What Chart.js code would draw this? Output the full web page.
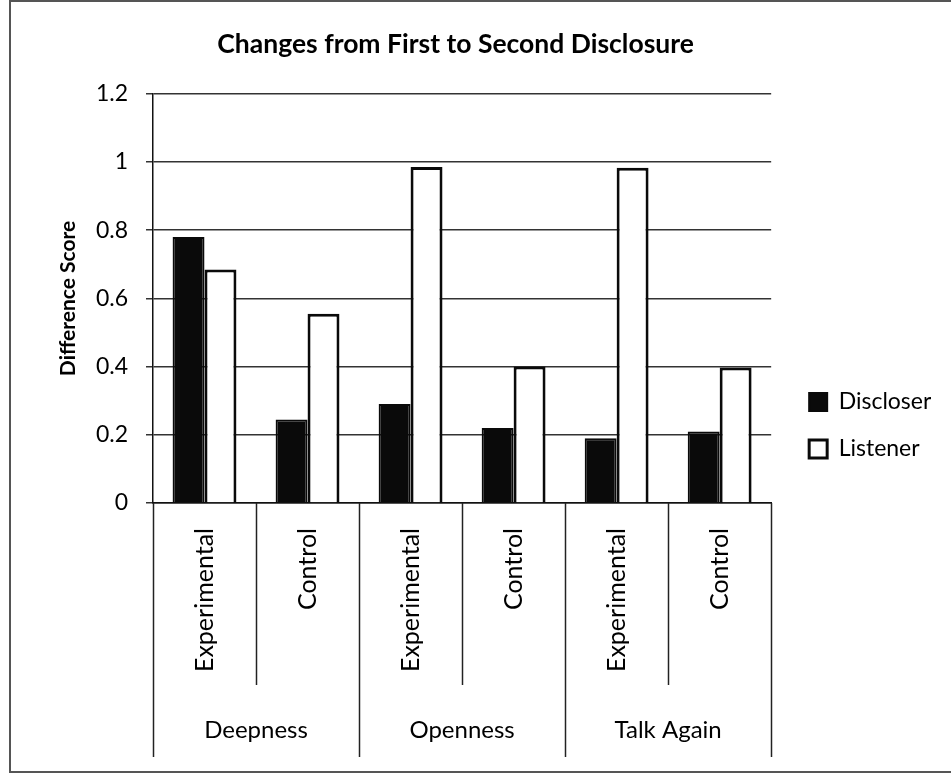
<!DOCTYPE html>
<html>
<head>
<meta charset="utf-8">
<script src="https://cdn.jsdelivr.net/npm/chart.js@4.4.1/dist/chart.umd.min.js"></script>
<style>
    html, body { margin: 0; padding: 0; background: #fff; }
    #wrap {
        position: absolute;
        left: 9px;
        top: 0;
        width: 940px;
        height: 769px;
        border-left: 2px solid #555;
        border-top: 2px solid #555;
        border-bottom: 2px solid #555;
    }
</style>
</head>
<body>
<div id="wrap"><canvas id="barChart"></canvas></div>
<script>
const conditions = ["Experimental", "Control", "Experimental", "Control", "Experimental", "Control"];
const groups = ["Deepness", "Openness", "Talk Again"];
const discloser = [0.78, 0.245, 0.29, 0.22, 0.19, 0.21];
const listener = [0.685, 0.555, 0.985, 0.4, 0.983, 0.397];
const yTicks = [0, 0.2, 0.4, 0.6, 0.8, 1, 1.2];
const yTickLabels = ["0", "0.2", "0.4", "0.6", "0.8", "1", "1.2"];

const FONT = "Lato";

// lines between the categories, short ones inside a group, long ones between groups
const dividers = {
    id: "dividers",
    afterDraw(chart) {
        const x = chart.scales.x;
        const x2 = chart.scales.x2;
        const ctx = chart.ctx;
        ctx.save();
        ctx.strokeStyle = "#222";
        ctx.lineWidth = 1.5;
        for (let i = 0; i <= conditions.length; i++) {
            const px = Math.round(x.getPixelForValue(i - 0.5)) + 0.5;
            const end = i % 2 === 0 ? x2.bottom : x2.top;
            ctx.beginPath();
            ctx.moveTo(px, x.top);
            ctx.lineTo(px, end);
            ctx.stroke();
        }
        ctx.restore();
    }
};

// title over the plot area, legend centred next to plot + category axis
const placeBoxes = {
    id: "placeBoxes",
    afterLayout(chart) {
        chart.titleBlock.left = chart.chartArea.left - 13;
        chart.titleBlock.right = chart.chartArea.right;
        chart.legend.top = chart.chartArea.top;
        chart.legend.bottom = chart.scales.x2.bottom;
    }
};

const ctx = document.getElementById("barChart").getContext("2d");

new Chart(ctx, {
    type: "bar",
    data: {
        labels: conditions,
        datasets: [
            {
                label: "Discloser",
                data: discloser,
                backgroundColor: "#0a0a0a",
                borderColor: "#0a0a0a",
                borderWidth: 2
            },
            {
                label: "Listener",
                data: listener,
                backgroundColor: "#ffffff",
                borderColor: "#0a0a0a",
                borderWidth: 3
            }
        ]
    },
    plugins: [dividers, placeBoxes],
    options: {
        responsive: true,
        maintainAspectRatio: false,
        animation: false,
        datasets: {
            bar: {
                categoryPercentage: 0.62,
                barPercentage: 1
            }
        },
        layout: {
            padding: { left: 45, right: 20, top: 0, bottom: 14 }
        },
        plugins: {
            title: {
                display: true,
                text: "Changes from First to Second Disclosure",
                color: "#000",
                font: { family: FONT, size: 26.5, weight: "bold" },
                padding: { top: 27, bottom: 33 }
            },
            legend: {
                position: "right",
                labels: {
                    color: "#000",
                    font: { family: FONT, size: 23 },
                    boxWidth: 18,
                    boxHeight: 18,
                    padding: 24
                }
            },
            tooltip: { enabled: false }
        },
        scales: {
            x: {
                offset: true,
                grid: { display: false, drawTicks: false },
                border: { display: true, color: "#111", width: 1.5 },
                ticks: {
                    color: "#000",
                    font: { family: FONT, size: 25 },
                    minRotation: 90,
                    maxRotation: 90,
                    autoSkip: false,
                    padding: 25
                },
                afterFit(scale) {
                    scale.height = 182;
                }
            },
            x2: {
                type: "category",
                labels: groups,
                position: "bottom",
                offset: true,
                grid: { display: false, drawTicks: false },
                border: { display: false },
                ticks: {
                    color: "#000",
                    font: { family: FONT, size: 24 },
                    padding: 31
                },
                afterFit(scale) {
                    scale.height = 72;
                }
            },
            y: {
                min: 0,
                max: 1.2,
                afterBuildTicks(scale) {
                    scale.ticks = yTicks.map(v => ({ value: v }));
                },
                grid: { color: "#333", lineWidth: 1.5, tickLength: 7 },
                border: { display: true, color: "#111", width: 1.5 },
                ticks: {
                    color: "#000",
                    font: { family: FONT, size: 23 },
                    padding: 18,
                    callback: (value, index) => yTickLabels[index]
                },
                title: {
                    display: true,
                    text: "Difference Score",
                    color: "#000",
                    font: { family: FONT, size: 21, weight: "bold" },
                    padding: { top: 0, bottom: 10 }
                },
                afterFit(scale) {
                    scale.width = 97;
                }
            },
            gap: {
                type: "linear",
                position: "right",
                display: true,
                grid: { display: false, drawTicks: false },
                border: { display: false },
                ticks: { display: false },
                afterFit(scale) {
                    scale.width = 14;
                }
            }
        }
    }
});
</script>
</body>
</html>
